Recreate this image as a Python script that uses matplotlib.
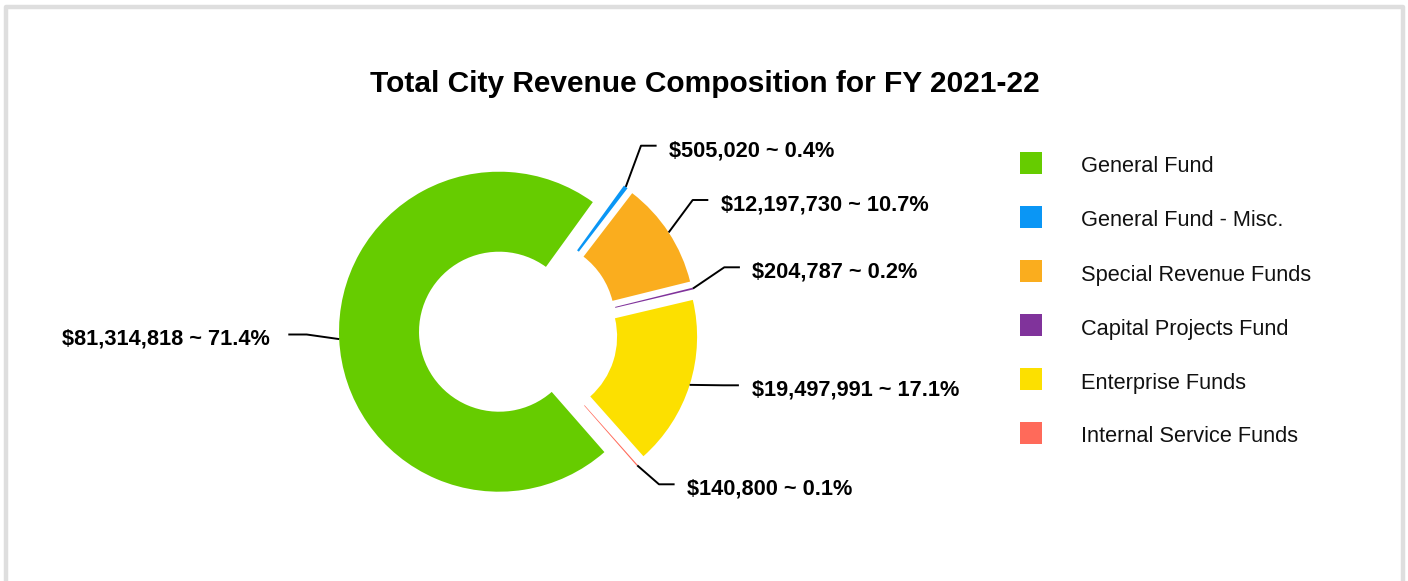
import numpy as np
import matplotlib
matplotlib.use("Agg")
import matplotlib.pyplot as plt
from matplotlib.patches import Rectangle

# ---------------- data ----------------
categories = ["General Fund", "General Fund - Misc.", "Special Revenue Funds",
              "Capital Projects Fund", "Enterprise Funds", "Internal Service Funds"]
values = [81314818, 505020, 12197730, 204787, 19497991, 140800]
colors = ["#66CC00", "#0A96F5", "#FAAD1E", "#80339B", "#FCE000", "#FF6A5A"]
title = "Total City Revenue Composition for FY 2021-22"

# ---------------- layout (pixel coordinates, y from top) ----------------
W, H = 1408, 581
center_img = (518.5, 330.8)
R_OUT, RING = 160, 80
EXPLODE = 19.5
START = -48.8
# connector layout: (line y, bend x, side)
label_layout = [(334.5, 306.7, "left"),
                (145.7, 641.0, "right"),
                (200.0, 692.7, "right"),
                (267.3, 724.3, "right"),
                (385.3, 723.3, "right"),
                (484.3, 659.0, "right")]

plt.rcParams["font.family"] = ["Liberation Sans", "DejaVu Sans"]
fig = plt.figure(figsize=(W / 100, H / 100), dpi=100)
ax = fig.add_axes([0, 0, 1, 1])

def Y(y):
    return H - y

total = float(sum(values))
cx, cy = center_img[0], Y(center_img[1])
wedges, _ = ax.pie(values, colors=colors, startangle=START, counterclock=False,
                   radius=R_OUT, center=(cx, cy), explode=[EXPLODE] * len(values),
                   wedgeprops=dict(width=RING, edgecolor="none", linewidth=0))

ax.set_xlim(0, W)
ax.set_ylim(0, H)
ax.set_aspect("auto")
ax.axis("off")

# data labels with connectors
for w, v, (ly, bx, side) in zip(wedges, values, label_layout):
    thm = np.deg2rad(0.5 * (w.theta1 + w.theta2))
    wx, wy = w.center
    ax_ = wx + R_OUT * np.cos(thm)
    ay_ = wy + R_OUT * np.sin(thm)
    pct = 100.0 * v / total
    txt = f"${v:,.0f} ~ {pct:.1f}%"
    if side == "right":
        ex = bx + 15.6
        tx = ex + 12.6
        ha = "left"
    else:
        ex = bx - 18.4
        tx = ex - 18.0
        ha = "right"
    ax.plot([ax_, bx, ex], [ay_, Y(ly), Y(ly)], color="black", lw=1.4,
            solid_joinstyle="round", solid_capstyle="butt", zorder=3)
    ax.text(tx, Y(ly + 10.5), txt, ha=ha, va="baseline", fontsize=15.7,
            fontweight="bold", color="black")

# title
ax.text(704.5, Y(92), title, ha="center", va="baseline", fontsize=21.5,
        fontweight="bold", color="black")

# legend (manual)
for i, (cat, col) in enumerate(zip(categories, colors)):
    yc = 163 + 54 * i
    ax.add_patch(Rectangle((1020, Y(yc + 11)), 22, 22, facecolor=col,
                           edgecolor="none"))
    ax.text(1081, Y(yc + 9.5), cat, ha="left", va="baseline", fontsize=15.7,
            color="#111111")

# outer frame
frame_col = "#DEDEDE"
ax.plot([6.3, 6.3, 1402.8, 1402.8], [Y(590), Y(7.2), Y(7.2), Y(590)],
        color=frame_col, lw=3.2, solid_joinstyle="round", clip_on=False)

fig.savefig("out.png", dpi=100, facecolor="white")
